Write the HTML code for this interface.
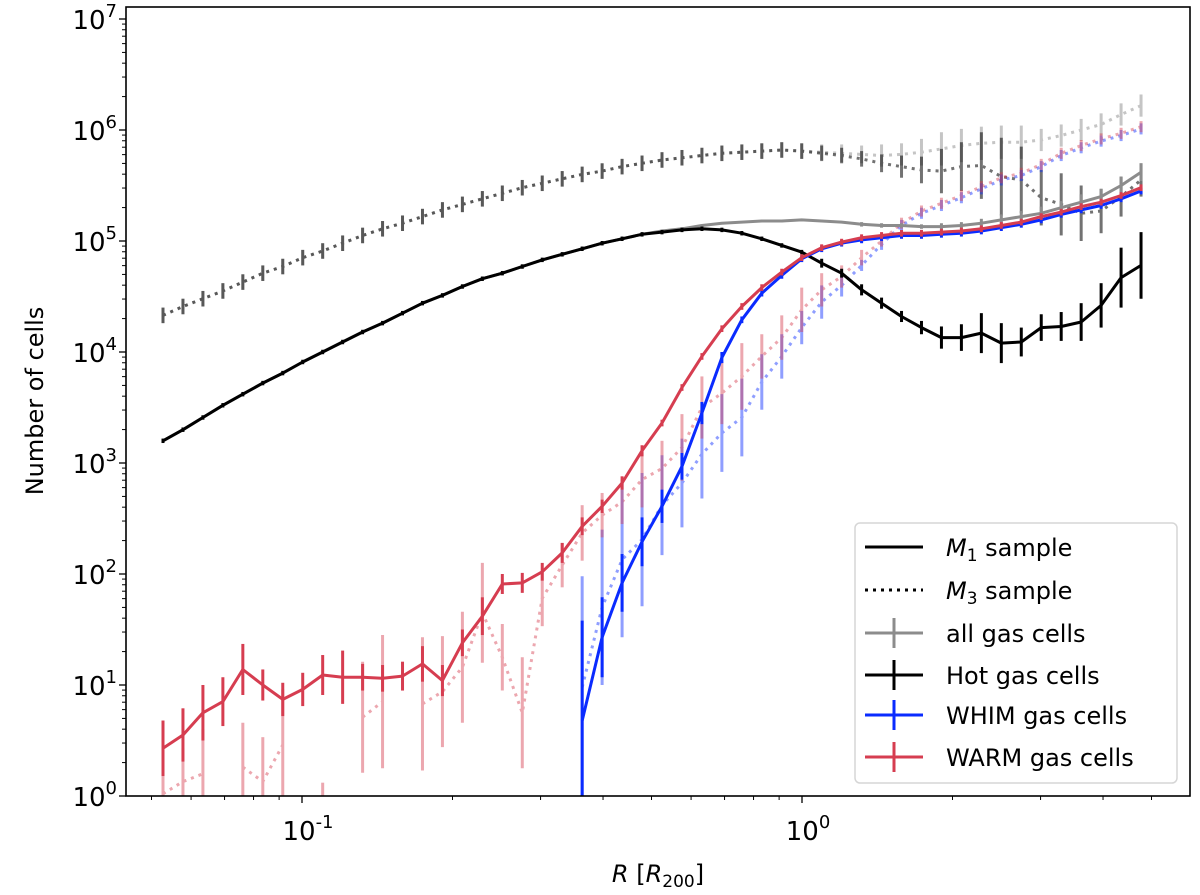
<!DOCTYPE html>
<html><head><meta charset="utf-8"><style>
html,body{margin:0;padding:0;background:#fff;}
svg{display:block;font-family:"DejaVu Sans","Liberation Sans",sans-serif;}
</style></head><body>
<svg id="chart" width="1200" height="895" viewBox="0 0 1200 895" xmlns="http://www.w3.org/2000/svg">
<defs><clipPath id="plotclip"><rect x="126" y="7" width="1064" height="789"/></clipPath></defs>
<rect x="0" y="0" width="1200" height="895" fill="#fff"/>
<g id="axes"></g>
<g id="series" clip-path="url(#plotclip)"></g>
<rect x="126" y="7" width="1064" height="789" fill="none" stroke="#000" stroke-width="1.6"/>
<g id="legend">
  <rect x="855" y="523" width="322" height="260" rx="5" fill="#fff" fill-opacity="0.85" stroke="#d6d6d6" stroke-width="1.5"/>
  <g>
    <line x1="865" y1="547" x2="923" y2="547" stroke="#000" stroke-width="3"/>
    <text x="946" y="556" font-size="24"><tspan font-style="italic">M</tspan><tspan font-size="17" dy="5">1</tspan><tspan dy="-5"> sample</tspan></text>
  </g>
  <g>
    <line x1="865" y1="590" x2="923" y2="590" stroke="#000" stroke-width="3" stroke-dasharray="3 5"/>
    <text x="946" y="599" font-size="24"><tspan font-style="italic">M</tspan><tspan font-size="17" dy="5">3</tspan><tspan dy="-5"> sample</tspan></text>
  </g>
  <g>
    <line x1="865" y1="633" x2="923" y2="633" stroke="#8c8c8c" stroke-width="3"/>
    <line x1="894" y1="618" x2="894" y2="648" stroke="#8c8c8c" stroke-width="3"/>
    <text x="946" y="642" font-size="24">all gas cells</text>
  </g>
  <g>
    <line x1="865" y1="675" x2="923" y2="675" stroke="#000" stroke-width="3"/>
    <line x1="894" y1="660" x2="894" y2="690" stroke="#000" stroke-width="3"/>
    <text x="946" y="684" font-size="24">Hot gas cells</text>
  </g>
  <g>
    <line x1="865" y1="715" x2="923" y2="715" stroke="#0a2bff" stroke-width="3"/>
    <line x1="894" y1="700" x2="894" y2="730" stroke="#0a2bff" stroke-width="3"/>
    <text x="946" y="724" font-size="24">WHIM gas cells</text>
  </g>
  <g>
    <line x1="865" y1="757" x2="923" y2="757" stroke="#d63d50" stroke-width="3"/>
    <line x1="894" y1="742" x2="894" y2="772" stroke="#d63d50" stroke-width="3"/>
    <text x="946" y="766" font-size="24">WARM gas cells</text>
  </g>
</g>
<text x="658" y="882" font-size="24" text-anchor="middle"><tspan font-style="italic">R</tspan> [<tspan font-style="italic">R</tspan><tspan font-size="17" dy="5">200</tspan><tspan dy="-5">]</tspan></text>
<text x="43" y="401" font-size="24" text-anchor="middle" transform="rotate(-90 43 401)">Number of cells</text>
</svg>
<script>
// ---- data (log10 of number of cells; radial bins) ----
const nBins = 50;
const logRmin = -1.278;
const logRstep = 0.03992;
const allM1 = [3.20,3.30,3.41,3.52,3.62,3.72,3.81,3.91,4.00,4.09,4.18,4.26,4.35,4.44,4.51,4.59,4.66,4.71,4.77,4.83,4.88,4.93,4.98,5.02,5.06,5.09,5.11,5.14,5.16,5.17,5.18,5.18,5.19,5.18,5.17,5.15,5.14,5.14,5.13,5.13,5.14,5.16,5.19,5.22,5.25,5.30,5.35,5.40,5.50,5.62];
const allM1Err = [0.01,0.01,0.01,0.01,0.01,0.01,0.01,0.01,0.01,0.01,0.01,0.01,0.01,0.01,0.01,0.01,0.01,0.01,0.01,0.01,0.01,0.01,0.01,0.01,0.01,0.01,0.01,0.01,0.01,0.01,0.01,0.01,0.01,0.01,0.01,0.02,0.02,0.02,0.02,0.03,0.03,0.04,0.05,0.05,0.06,0.06,0.07,0.07,0.08,0.08];
const hotM1 = [3.20,3.30,3.41,3.52,3.62,3.72,3.81,3.91,4.00,4.09,4.18,4.26,4.35,4.44,4.51,4.59,4.66,4.71,4.77,4.83,4.88,4.93,4.98,5.02,5.06,5.08,5.10,5.11,5.10,5.07,5.02,4.96,4.90,4.80,4.71,4.56,4.44,4.32,4.22,4.13,4.13,4.17,4.08,4.09,4.22,4.23,4.27,4.42,4.67,4.78];
const hotM1Err = [0.02,0.02,0.02,0.02,0.02,0.02,0.02,0.02,0.02,0.02,0.02,0.02,0.02,0.02,0.02,0.02,0.02,0.02,0.02,0.02,0.02,0.02,0.02,0.02,0.02,0.02,0.02,0.02,0.02,0.02,0.02,0.02,0.02,0.04,0.04,0.05,0.05,0.05,0.06,0.10,0.12,0.18,0.18,0.13,0.12,0.13,0.17,0.20,0.27,0.30];
const whimM1 = [null,null,null,null,null,null,null,null,null,null,null,null,null,null,null,null,null,null,null,null,null,0.68,1.43,1.92,2.29,2.61,2.97,3.45,3.95,4.29,4.53,4.69,4.84,4.93,4.98,5.01,5.03,5.05,5.05,5.06,5.07,5.09,5.12,5.15,5.19,5.24,5.28,5.32,5.38,5.45];
const whimM1Err = [0,0,0,0,0,0,0,0,0,0,0,0,0,0,0,0,0,0,0,0,0,0.9,0.36,0.26,0.22,0.15,0.12,0.10,0.05,0.03,0.03,0.03,0.03,0.03,0.03,0.03,0.03,0.03,0.03,0.03,0.03,0.03,0.03,0.03,0.03,0.03,0.03,0.03,0.03,0.03];
const warmM1 = [0.43,0.55,0.75,0.85,1.14,1.00,0.87,0.96,1.09,1.07,1.07,1.06,1.08,1.19,1.04,1.38,1.62,1.91,1.92,2.02,2.19,2.43,2.61,2.82,3.11,3.36,3.68,3.96,4.21,4.41,4.58,4.72,4.85,4.94,4.99,5.03,5.05,5.07,5.07,5.08,5.09,5.11,5.14,5.17,5.22,5.26,5.31,5.35,5.41,5.48];
const warmM1Err = [0.25,0.24,0.25,0.22,0.23,0.14,0.15,0.15,0.18,0.24,0.12,0.12,0.13,0.16,0.14,0.12,0.17,0.09,0.09,0.08,0.09,0.08,0.06,0.06,0.05,0.03,0.03,0.03,0.03,0.03,0.03,0.03,0.03,0.03,0.03,0.03,0.03,0.03,0.03,0.03,0.03,0.03,0.03,0.03,0.03,0.03,0.03,0.03,0.03,0.03];
const allM3 = [4.33,4.41,4.48,4.55,4.63,4.71,4.77,4.85,4.91,4.98,5.05,5.11,5.16,5.22,5.28,5.33,5.38,5.43,5.48,5.52,5.56,5.60,5.63,5.67,5.70,5.73,5.75,5.77,5.79,5.80,5.81,5.82,5.81,5.80,5.79,5.78,5.77,5.78,5.80,5.83,5.86,5.88,5.89,5.89,5.91,5.95,6.00,6.05,6.14,6.22];
const allM3Err = [0.07,0.07,0.07,0.07,0.07,0.07,0.07,0.07,0.07,0.07,0.07,0.07,0.07,0.07,0.07,0.07,0.07,0.07,0.07,0.07,0.07,0.07,0.07,0.07,0.07,0.07,0.07,0.07,0.07,0.07,0.07,0.07,0.07,0.07,0.08,0.08,0.1,0.1,0.12,0.15,0.15,0.15,0.15,0.15,0.1,0.1,0.1,0.1,0.1,0.1];
const hotM3 = [4.33,4.41,4.48,4.55,4.63,4.71,4.77,4.85,4.91,4.98,5.05,5.11,5.16,5.22,5.28,5.33,5.38,5.43,5.48,5.52,5.56,5.60,5.63,5.67,5.70,5.73,5.75,5.77,5.79,5.80,5.81,5.82,5.81,5.79,5.77,5.74,5.70,5.67,5.64,5.63,5.67,5.68,5.58,5.55,5.39,5.33,5.25,5.27,5.40,5.55];
const hotM3Err = [0.07,0.07,0.07,0.07,0.07,0.07,0.07,0.07,0.07,0.07,0.07,0.07,0.07,0.07,0.07,0.07,0.07,0.07,0.07,0.07,0.07,0.07,0.07,0.07,0.07,0.07,0.07,0.07,0.07,0.07,0.07,0.07,0.07,0.07,0.07,0.07,0.08,0.10,0.12,0.20,0.22,0.30,0.35,0.30,0.25,0.28,0.25,0.20,0.18,0.15];
const whimM3 = [null,null,null,null,null,null,null,null,null,null,null,null,null,null,null,null,null,null,null,null,null,0.98,1.70,2.13,2.31,2.62,2.82,3.08,3.27,3.41,3.73,3.96,4.22,4.45,4.60,4.78,4.97,5.14,5.25,5.32,5.39,5.47,5.55,5.59,5.67,5.77,5.84,5.90,5.95,6.01];
const whimM3Err = [0,0,0,0,0,0,0,0,0,0,0,0,0,0,0,0,0,0,0,0,0,1.0,0.7,0.7,0.6,0.45,0.4,0.4,0.35,0.35,0.25,0.2,0.15,0.15,0.1,0.05,0.05,0.05,0.05,0.05,0.05,0.05,0.05,0.05,0.05,0.05,0.05,0.05,0.05,0.05];
const warmM3 = [0.02,0.13,0.20,null,0.26,0.13,0.46,null,0.02,null,0.71,0.85,null,0.83,0.94,1.16,1.65,1.25,0.75,1.78,2.08,2.37,2.53,2.65,2.85,2.95,3.14,3.50,3.63,3.78,3.96,4.13,4.38,4.56,4.68,4.85,5.00,5.16,5.27,5.34,5.41,5.49,5.57,5.61,5.69,5.79,5.86,5.92,5.97,6.03];
const warmM3Err = [0.3,0.3,0.4,0,0.4,0.4,0.5,0,0.1,0,0.5,0.6,0,0.6,0.5,0.5,0.45,0.3,0.5,0.25,0.2,0.25,0.2,0.2,0.25,0.25,0.3,0.28,0.28,0.3,0.2,0.2,0.2,0.15,0.1,0.07,0.05,0.05,0.05,0.05,0.05,0.05,0.05,0.05,0.05,0.05,0.05,0.05,0.05,0.05];
const xTickLabels = ["-1","0"];
const yTickLabels = ["0","1","2","3","4","5","6","7"];

// ---- axis functions ----
const X0 = 802, XDEC = 500;
const Y0 = 796, YDEC = 111.0;
function xOfLog(l){ return X0 + l*XDEC; }
function xOfBin(i){ return xOfLog(logRmin + i*logRstep); }
function yOfLog(l){ return Y0 - l*YDEC; }

const NS = "http://www.w3.org/2000/svg";
function mk(tag, attrs, parent){
  const e = document.createElementNS(NS, tag);
  for (const k in attrs) e.setAttribute(k, attrs[k]);
  parent.appendChild(e);
  return e;
}
const axes = document.getElementById('axes');
const ser = document.getElementById('series');

for (let d = 0; d <= 7; d++){
  const y = yOfLog(d);
  const t = mk('line', {x1:119, x2:126, y1:y, y2:y, stroke:'#000','stroke-width':1.3}, axes);
  
  
  const lab = mk('text', {x:117, y:y+10, 'font-size':26, 'text-anchor':'end'}, axes);
  
  
  lab.innerHTML = '10<tspan font-size="18" dy="-12">' + yTickLabels[d] + '</tspan>';
  if (d < 7){
    for (let m = 2; m <= 9; m++){
      const ym = yOfLog(d + Math.log10(m));
      const mt = mk('line', {x1:122, x2:126, y1:ym, y2:ym, stroke:'#000','stroke-width':1}, axes);
      
      
    }
  }
}
for (let d = -2; d <= 1; d++){
  for (let m = 1; m <= 9; m++){
    const l = d + Math.log10(m);
    const x = xOfLog(l);
    if (x < 126 || x > 1190) continue;
    const major = (m === 1);
    const t = mk('line', {x1:x, x2:x, y1:796, y2:major?803:800, stroke:'#000','stroke-width':major?1.3:1}, axes);
    
    
    if (major){
      const lab = mk('text', {x:x+6, y:840, 'font-size':26, 'text-anchor':'middle'}, axes);
      
      
      lab.innerHTML = '10<tspan font-size="18" dy="-12">' + xTickLabels[d+1] + '</tspan>';
    }
  }
}

function drawSeries(name, vals, errs, color, alpha, dotted){
  const g = mk('g', {opacity: alpha}, ser);
  
  
  for (let i = 0; i < nBins; i++){
    const v = vals[i];
    if (v === null || !errs[i]) continue;
    const lo = v - errs[i], hi = v + errs[i];
    const b = mk('line', {x1:xOfBin(i), x2:xOfBin(i), y1:yOfLog(hi), y2:Math.min(yOfLog(lo), 800), stroke:color, 'stroke-width':3}, g);
    
    
  }
  let d = '', pen = false;
  for (let i = 0; i < nBins; i++){
    const v = vals[i];
    if (v === null){ pen = false; continue; }
    d += (pen ? 'L' : 'M') + xOfBin(i).toFixed(1) + ' ' + yOfLog(v).toFixed(1) + ' ';
    pen = true;
  }
  const p = mk('path', {d:d, fill:'none', stroke:color, 'stroke-width':3, 'stroke-linejoin':'round'}, g);
  if (dotted) p.setAttribute('stroke-dasharray', '3 5');
  
  
}

const GRAY = '#8c8c8c', BLACK = '#000', BLUE = '#0a2bff', RED = '#d63d50';
drawSeries('all-gas-m3', allM3, allM3Err, GRAY, 0.5, true);
drawSeries('hot-gas-m3', hotM3, hotM3Err, BLACK, 0.55, true);
drawSeries('whim-gas-m3', whimM3, whimM3Err, BLUE, 0.45, true);
drawSeries('warm-gas-m3', warmM3, warmM3Err, RED, 0.45, true);
drawSeries('all-gas-m1', allM1, allM1Err, GRAY, 1, false);
drawSeries('hot-gas-m1', hotM1, hotM1Err, BLACK, 1, false);
drawSeries('whim-gas-m1', whimM1, whimM1Err, BLUE, 1, false);
drawSeries('warm-gas-m1', warmM1, warmM1Err, RED, 1, false);
</script>
</body></html>
